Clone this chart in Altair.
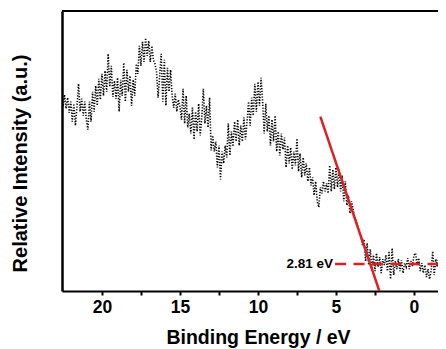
import altair as alt
import pandas as pd

# Valence-band XPS intensity (a.u.), 22.6 eV -> -2.1 eV in 0.1 eV steps
intensity = [
    192, 185, 197, 183, 194, 179, 190,
    170, 188, 166, 185, 208, 180, 193, 176, 190, 172,
    162, 190, 170, 200, 180, 206, 186, 213, 192, 218,
    196, 221, 200, 238, 205, 226, 195, 211, 193, 214,
    180, 212, 196, 229, 190, 222, 200, 216, 186, 212,
    196, 228, 218, 246, 226, 250, 230, 254, 236, 251,
    230, 246, 232, 228, 220, 194, 216, 238, 190, 232,
    186, 224, 200, 222, 196, 184, 198, 180, 192, 185,
    172, 203, 168, 196, 164, 178, 158, 184, 152, 180,
    160, 188, 156, 174, 203, 168, 186, 164, 194, 141,
    156, 140, 150, 124, 146, 112, 140, 128, 146, 134,
    168, 136, 160, 145, 170, 150, 172, 146, 166, 150,
    174, 152, 170, 190, 166, 194, 176, 208, 180, 210,
    186, 214, 190, 158, 188, 160, 176, 146, 172, 150,
    176, 140, 160, 136, 158, 142, 154, 124, 146, 128,
    144, 122, 140, 126, 153, 120, 138, 114, 134, 116,
    128, 110, 124, 106, 114, 96, 110, 90, 84, 104,
    98, 110, 100, 108, 98, 126, 100, 122, 102, 124,
    104, 122, 100, 116, 90, 110, 86, 96, 78, 90,
    82, 74, 70, 64, 60, 56, 46, 52, 30, 48,
    26, 42, 22, 36, 20, 38, 24, 34, 18, 32,
    26, 36, 20, 40, 12, 43, 16, 30, 22, 32,
    20, 31, 18, 28, 24, 33, 22, 30, 25, 36,
    38, 26, 33, 20, 28, 18, 26, 14, 22, 12,
    20, 40, 16, 32, 24, 36, 20, 30, 26, 38,
    28,
]
energy = [round(22.6 - 0.1 * i, 1) for i in range(len(intensity))]

# Linear fit of the leading edge
fit_energy = [6.0, 2.22]
fit_intensity = [175, 0]

# Baseline through the onset
base_energy = [5.06, -2.2]
base_intensity = [27, 27]

label_text = ["2.81 eV"]
label_energy = [5.19]
label_intensity = [27]

x_ticks = [20, 17.5, 15, 12.5, 10, 7.5, 5, 2.5, 0]

W, H = 376, 280
FONT = "Liberation Sans"

xscale = alt.Scale(domain=[22.56, -1.54], nice=False, zero=False)
yscale = alt.Scale(domain=[0, 281], nice=False, zero=False)

spec_df = pd.DataFrame({"energy": energy, "intensity": intensity})
fit_df = pd.DataFrame({"energy": fit_energy, "intensity": fit_intensity})
base_df = pd.DataFrame({"energy": base_energy, "intensity": base_intensity})
lab_df = pd.DataFrame({"energy": label_energy, "intensity": label_intensity, "t": label_text})

x_axis = alt.Axis(
    values=x_ticks,
    labelExpr="datum.value % 5 == 0 ? datum.label : ''",
    labelOverlap=False,
    labelFont=FONT, labelFontSize=17.5, labelFontWeight="bold", labelColor="black",
    labelPadding=3,
    tickColor="black", tickWidth=2, tickSize=4,
    domainColor="black", domainWidth=2,
    grid=False,
    title="Binding Energy / eV",
    titleFont=FONT, titleFontSize=19.5, titleFontWeight="bold", titleColor="black",
    titleX=196, titleY=52, titleBaseline="alphabetic", titleAlign="center",
)
y_axis = alt.Axis(
    labels=False, ticks=False, grid=False,
    domainColor="black", domainWidth=2.5,
    title="Relative Intensity (a.u.)",
    titleFont=FONT, titleFontSize=20, titleFontWeight="bold", titleColor="black",
    titleAngle=270, titleX=-36, titleY=152, titleBaseline="alphabetic", titleAlign="center",
)

spectrum = alt.Chart(spec_df).mark_line(
    color="black", strokeWidth=1.6, strokeDash=[1.2, 1.6], clip=True
).encode(
    x=alt.X("energy:Q", scale=xscale, axis=x_axis),
    y=alt.Y("intensity:Q", scale=yscale, axis=y_axis),
    order=alt.Order("energy:Q", sort="descending"),
)

fit = alt.Chart(fit_df).mark_line(color="#dd2025", strokeWidth=2.5, clip=True).encode(
    x=alt.X("energy:Q", scale=xscale), y=alt.Y("intensity:Q", scale=yscale)
)
base = alt.Chart(base_df).mark_line(
    color="#dd2025", strokeWidth=2.5, strokeDash=[11, 7.5], clip=True
).encode(x=alt.X("energy:Q", scale=xscale), y=alt.Y("intensity:Q", scale=yscale))

label = alt.Chart(lab_df).mark_text(
    font=FONT, fontSize=13.5, fontWeight="bold", color="black",
    align="right", baseline="middle",
).encode(x=alt.X("energy:Q", scale=xscale), y=alt.Y("intensity:Q", scale=yscale), text="t:N")

top = alt.Chart(pd.DataFrame({"a": [0]})).mark_rule(color="black", strokeWidth=2).encode(
    x=alt.value(0), x2=alt.value(W), y=alt.value(0)
)

chart = alt.layer(spectrum, fit, base, label, top).properties(
    width=W, height=H,
    autosize=alt.AutoSizeParams(type="none"),
    padding={"left": 54, "top": 3, "right": 0, "bottom": 57},
    background="white",
).configure_view(stroke="transparent")

chart.save("out.html", embed_options={"renderer": "svg", "actions": False})
